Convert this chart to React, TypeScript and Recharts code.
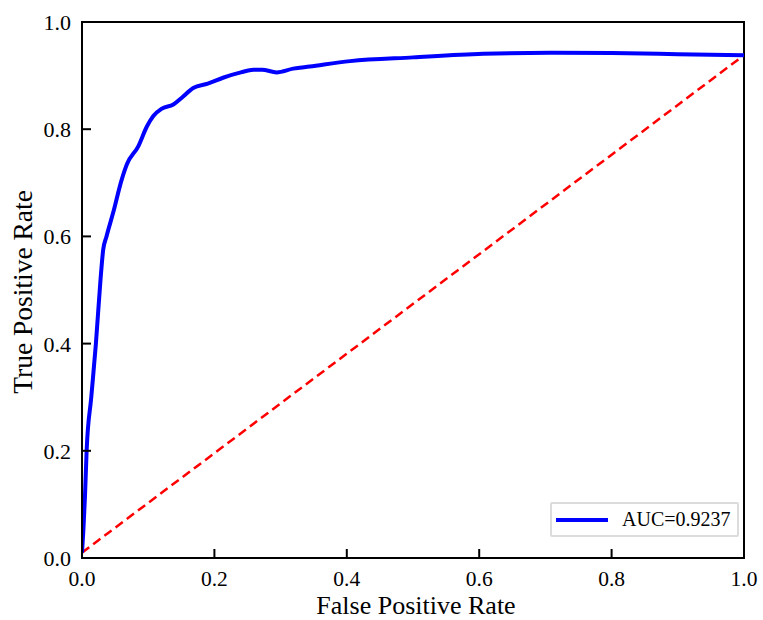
import { LineChart, Line, XAxis, YAxis, ReferenceArea, Legend } from 'recharts';

const fpr = [
  0, 0.002, 0.0045, 0.007, 0.014, 0.021, 0.028, 0.032, 0.037, 0.047, 0.06, 0.068,
  0.085, 0.098, 0.108, 0.12, 0.138, 0.152, 0.168, 0.19, 0.213, 0.24, 0.259, 0.272,
  0.294, 0.319, 0.344, 0.405, 0.5, 0.606, 0.707, 0.8, 0.9, 1.0,
];
const tpr = [
  0.01, 0.05, 0.115, 0.2, 0.3, 0.4, 0.52, 0.575, 0.6, 0.644, 0.706, 0.735,
  0.768, 0.805, 0.825, 0.838, 0.846, 0.86, 0.877, 0.885, 0.896, 0.906, 0.911, 0.911,
  0.906, 0.913, 0.917, 0.927, 0.934, 0.9406, 0.9425, 0.942, 0.94, 0.938,
];
const chanceX = [0, 1];
const chanceY = [0.01, 0.938];
const ticks = [0, 0.2, 0.4, 0.6, 0.8, 1.0];
const aucLabel = 'AUC=0.9237';

const roc = fpr.map((x, i) => ({ x, y: tpr[i] }));
const chance = chanceX.map((x, i) => ({ x, y: chanceY[i] }));

const FONT = '"Liberation Serif", "Times New Roman", serif';

const XTick = ({ x, y, payload }: any) => (
  <g>
    <line x1={x} y1={y} x2={x} y2={y - 9} stroke="#000" strokeWidth={2} />
    <text x={x} y={y + 28} textAnchor="middle" fontSize={21.5} fontFamily={FONT} fill="#000">
      {Number(payload.value).toFixed(1)}
    </text>
  </g>
);

const YTick = ({ x, y, payload }: any) => (
  <g>
    <line x1={x} y1={y} x2={x + 9} y2={y} stroke="#000" strokeWidth={2} />
    <text x={x - 11} y={y + 8} textAnchor="end" fontSize={22} fontFamily={FONT} fill="#000">
      {Number(payload.value).toFixed(1)}
    </text>
  </g>
);

// axis titles, placed from the axis viewBox
const XTitle = ({ viewBox }: any) => (
  <text x={viewBox.x + viewBox.width / 2 + 3} y={viewBox.y + 56} textAnchor="middle" fontSize={26} fontFamily={FONT} fill="#000">
    False Positive Rate
  </text>
);

const YTitle = ({ viewBox }: any) => {
  const cx = viewBox.x + 32;
  const cy = viewBox.y + viewBox.height / 2 + 2;
  return (
    <text x={cx} y={cy} transform={`rotate(-90 ${cx} ${cy})`} textAnchor="middle" fontSize={27.5} fontFamily={FONT} fill="#000">
      True Positive Rate
    </text>
  );
};

const LegendBox = ({ payload }: any) => {
  const items = (payload || []).filter((p: any) => p.value === aucLabel);
  return (
    <div
      style={{
        width: 185,
        height: 31,
        border: '2px solid #dcdcdc',
        borderRadius: 2,
        background: '#fff',
        display: 'flex',
        alignItems: 'center',
        fontFamily: FONT,
        fontSize: 20,
        color: '#000',
      }}
    >
      {items.map((p: any) => (
        <div key={p.value} style={{ display: 'flex', alignItems: 'center' }}>
          <span style={{ display: 'inline-block', width: 52, height: 4, background: p.color, marginLeft: 4, marginRight: 14 }} />
          <span>{p.value}</span>
        </div>
      ))}
    </div>
  );
};

const RocChart = () => (
  <div style={{ position: 'absolute', left: 0, top: 0, width: 763, height: 620, background: '#fff' }}>
    <LineChart width={763} height={620} margin={{ top: 22, right: 19, left: 0, bottom: 0 }}>
      <XAxis
        type="number"
        dataKey="x"
        domain={[0, 1]}
        ticks={ticks}
        height={62}
        tickSize={0}
        tickMargin={0}
        tickLine={false}
        axisLine={{ stroke: '#000', strokeWidth: 2 }}
        tick={<XTick />}
        label={<XTitle />}
        allowDataOverflow
      />
      <YAxis
        type="number"
        dataKey="y"
        domain={[0, 1]}
        ticks={ticks}
        width={82}
        tickSize={0}
        tickMargin={0}
        tickLine={false}
        axisLine={{ stroke: '#000', strokeWidth: 2 }}
        tick={<YTick />}
        label={<YTitle />}
        allowDataOverflow
      />
      <ReferenceArea x1={0} x2={1} y1={0} y2={1} fill="none" stroke="#000" strokeWidth={2} fillOpacity={0} />
      <Line
        data={chance}
        dataKey="y"
        name="chance"
        type="linear"
        stroke="#ff0000"
        strokeWidth={2.5}
        strokeDasharray="9 5"
        dot={false}
        legendType="none"
        isAnimationActive={false}
      />
      <Line
        data={roc}
        dataKey="y"
        name={aucLabel}
        type="monotone"
        stroke="#0000ff"
        strokeWidth={4}
        dot={false}
        isAnimationActive={false}
      />
      <Legend
        layout="vertical"
        align="center"
        verticalAlign="middle"
        content={<LegendBox />}
        wrapperStyle={{ left: 550, top: 502, width: 189, height: 35 }}
      />
    </LineChart>
  </div>
);

export default function App() {
  return <RocChart />;
}
